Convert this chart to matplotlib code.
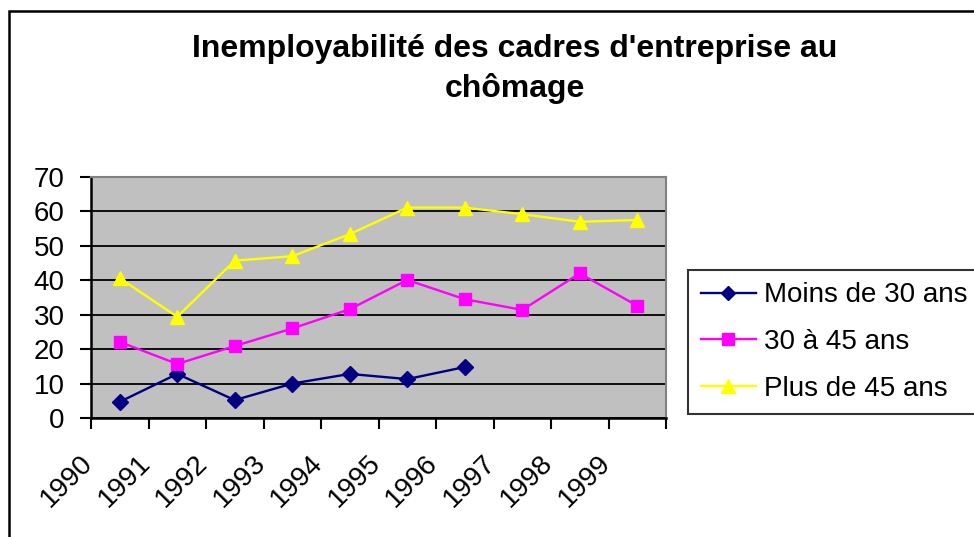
# Importamos matplotlib para crear la gráfica
import matplotlib
matplotlib.use("Agg")
import matplotlib.pyplot as plt
from matplotlib.patches import Rectangle
# Importamos numpy para los valores ausentes
import numpy as np

# Datos
anios = ['1990', '1991', '1992', '1993', '1994', '1995', '1996', '1997', '1998', '1999']
moins_30 = [4.7, 12.8, 5.2, 10.0, 12.8, 11.3, 14.8, np.nan, np.nan, np.nan]
entre_30_45 = [22.1, 15.7, 20.9, 26.0, 31.6, 40.1, 34.5, 31.4, 42.0, 32.6]
plus_45 = [40.6, 29.4, 45.7, 47.0, 53.4, 61.1, 61.1, 59.2, 57.0, 57.5]
etiquetas = ['Moins de 30 ans', '30 à 45 ans', 'Plus de 45 ans']
titulo = "Inemployabilité des cadres d'entreprise au\nchômage"

plt.rcParams['font.family'] = ['Liberation Sans', 'DejaVu Sans']

# Figura del mismo tamaño que la referencia (974x537 px)
fig = plt.figure(figsize=(9.74, 5.37), dpi=100)
ax = fig.add_axes([91 / 974, 1 - 418 / 537, 575 / 974, 241 / 537])

# Cada año ocupa una categoría; los puntos van en el centro
x = np.arange(len(anios)) + 0.5

series = [
    (moins_30, '#000080', 'D', 8),
    (entre_30_45, '#FF00FF', 's', 8.5),
    (plus_45, '#FFFF00', '^', 10),
]
for (valores, color, marcador, tam), etiqueta in zip(series, etiquetas):
    ax.plot(x, valores, color=color, marker=marcador, markersize=tam,
            linewidth=1.7, label=etiqueta, clip_on=False)

# Fondo gris y cuadrícula negra como en Excel
ax.set_facecolor('#C0C0C0')
ax.set_xlim(0, len(anios))
ax.set_ylim(0, 70)
ax.set_yticks(range(0, 71, 10))
ax.grid(axis='y', color='black', linewidth=1.3)
ax.set_axisbelow(True)

ax.set_xticks(range(len(anios) + 1))
ax.set_xticklabels([])
ax.tick_params(axis='both', direction='out', length=8, width=1.5, color='black')
ax.tick_params(axis='y', labelsize=20, pad=11)

for lado in ['left', 'bottom']:
    ax.spines[lado].set_color('black')
    ax.spines[lado].set_linewidth(1.8)
for lado in ['top', 'right']:
    ax.spines[lado].set_color('#808080')
    ax.spines[lado].set_linewidth(1.5)

# Etiquetas de los años giradas 45 grados
for i, anio in enumerate(anios):
    ax.text(i - 0.42, -0.261, anio, transform=ax.get_xaxis_transform(),
            rotation=45, rotation_mode='anchor', ha='center', va='center',
            fontsize=20)

# Título en dos líneas (la alineación 'baseline' usa la última línea)
fig.text(515 / 974, 1 - 97 / 537, titulo, ha='center', va='baseline',
         fontsize=23, fontweight='bold', linespacing=1.37)

# Leyenda a la derecha con marco negro
leyenda = fig.legend(loc='upper left', bbox_to_anchor=(688 / 974, 1 - 270 / 537),
                     fontsize=20, frameon=True, fancybox=False, edgecolor='black',
                     handlelength=2.0, handletextpad=0.3, labelspacing=0.74,
                     borderpad=0.45, borderaxespad=0, markerscale=0.95)
leyenda.get_frame().set_linewidth(1.5)

# Marco exterior del gráfico
fig.patches.append(Rectangle((9 / 974, -0.1), 1.2, 1.1 - 11 / 537, transform=fig.transFigure,
                             fill=False, edgecolor='black', linewidth=1.8))

fig.savefig('out.png', dpi=100)
